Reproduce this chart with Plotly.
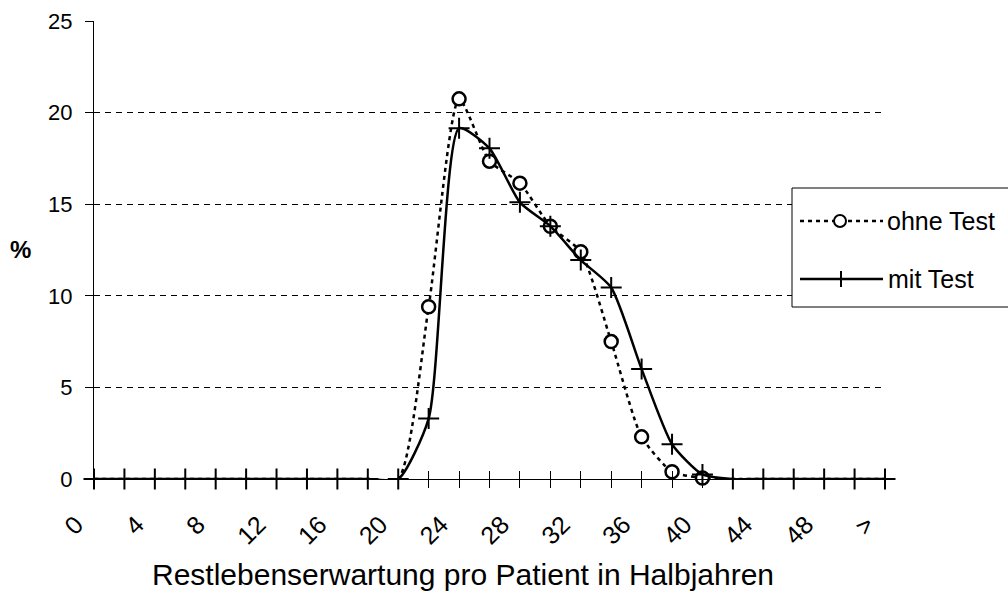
import plotly.graph_objects as go

# ---- data ----
categories = ["0", "2", "4", "6", "8", "10", "12", "14", "16", "18", "20", "22", "24",
              "26", "28", "30", "32", "34", "36", "38", "40", "42", "44", "46", "48", "50", ">"]
ohne_test = [0, 0, 0, 0, 0, 0, 0, 0, 0, 0, 0, 9.4, 20.75, 17.35, 16.15, 13.8, 12.4,
             7.5, 2.3, 0.4, 0.05, 0, 0, 0, 0, 0, 0]
mit_test = [0, 0, 0, 0, 0, 0, 0, 0, 0, 0, 0, 3.3, 19.15, 18.05, 15.1, 13.8, 11.95,
            10.45, 6.0, 1.9, 0.25, 0, 0, 0, 0, 0, 0]
y_ticks = [0, 5, 10, 15, 20, 25]
x_title = "Restlebenserwartung pro Patient in Halbjahren"
y_title = "%"
series_names = ["ohne Test", "mit Test"]

FONT = "Liberation Sans, Arial, sans-serif"
W, H = 1008, 596
L, R, T, B = 94, 1008, 21, 479          # region covered by the (paper) plot area
PLOT_RIGHT = 885
SMOOTH = 0.6


def px(x):
    return (x - L) / (R - L)


def py(y):
    return (B - y) / (B - T)


idx = list(range(len(categories)))
ticktext = [c if i % 2 == 0 else "" for i, c in enumerate(categories)]

fig = go.Figure()

fig.add_trace(go.Scatter(
    x=idx, y=ohne_test, name=series_names[0], mode="lines+markers",
    line=dict(color="black", width=2.5, dash="4px,4px", shape="spline", smoothing=SMOOTH),
    marker=dict(symbol="circle", size=[0 if v == 0 else 13 for v in ohne_test],
                color="white", opacity=1, line=dict(color="#000000", width=2.5)),
    cliponaxis=False, showlegend=False))

fig.add_trace(go.Scatter(
    x=idx, y=mit_test, name=series_names[1], mode="lines+markers",
    line=dict(color="black", width=2.5, shape="spline", smoothing=SMOOTH),
    marker=dict(symbol="cross-thin", size=15, color="black",
                line=dict(color="black", width=2)),
    cliponaxis=False, showlegend=False))

# helper trace for the upper half of the crossing tick marks
fig.add_trace(go.Scatter(x=idx, y=mit_test, xaxis="x2", mode="none",
                         hoverinfo="skip", showlegend=False))

dom_right = px(PLOT_RIGHT)

fig.update_layout(
    width=W, height=H,
    margin=dict(l=L, r=W - R, t=T, b=H - B, pad=0),
    paper_bgcolor="white", plot_bgcolor="white",
    font=dict(family=FONT, size=22, color="black"),
    xaxis=dict(domain=[0, dom_right], range=[0, len(categories) - 1],
               tickmode="array", tickvals=idx, ticktext=ticktext,
               tickangle=-45, ticks="outside", ticklen=8, tickwidth=1, tickcolor="black",
               ticklabelstandoff=12, ticklabelshift=-18,
               showline=True, linecolor="black", linewidth=1,
               showgrid=False, zeroline=False,
               tickfont=dict(family=FONT, size=25, color="black")),
    xaxis2=dict(domain=[0, dom_right], range=[0, len(categories) - 1],
                overlaying="x", anchor="y", side="bottom",
                tickmode="array", tickvals=idx, ticks="inside", ticklen=8,
                tickwidth=1, tickcolor="black", showticklabels=False,
                showline=False, showgrid=False, zeroline=False),
    yaxis=dict(domain=[0, 1], range=[0, 25], tickmode="array", tickvals=y_ticks,
               ticks="outside", ticklen=8, tickwidth=1, tickcolor="black",
               ticklabelstandoff=8,
               showline=True, linecolor="black", linewidth=1,
               showgrid=True, gridcolor="black", gridwidth=1, griddash="6px,5px",
               zeroline=False,
               tickfont=dict(family=FONT, size=22, color="black")),
)

# ---- custom legend ----
shapes = [
    dict(type="rect", xref="paper", yref="paper", x0=px(792), x1=px(1014),
         y0=py(307), y1=py(188), line=dict(color="black", width=1),
         fillcolor="white", layer="above"),
    dict(type="line", xref="paper", yref="paper", x0=px(800), x1=px(883),
         y0=py(221), y1=py(221), line=dict(color="black", width=2.5, dash="4px,4px"),
         layer="above"),
    dict(type="circle", xref="paper", yref="paper", xsizemode="pixel", ysizemode="pixel",
         xanchor=px(840), yanchor=py(221), x0=-6, x1=6, y0=-6, y1=6,
         fillcolor="white", line=dict(color="black", width=2), layer="above"),
    dict(type="line", xref="paper", yref="paper", x0=px(800), x1=px(883),
         y0=py(279), y1=py(279), line=dict(color="black", width=2.5), layer="above"),
    dict(type="line", xref="paper", yref="paper", xsizemode="pixel", ysizemode="pixel",
         xanchor=px(841), yanchor=py(279), x0=0, x1=0, y0=-8, y1=8,
         line=dict(color="black", width=2), layer="above"),
]
fig.update_layout(shapes=shapes)

annotations = [
    dict(text=series_names[0], xref="paper", yref="paper", x=px(885), y=py(221),
         xanchor="left", yanchor="middle", showarrow=False,
         font=dict(family=FONT, size=25, color="black")),
    dict(text=series_names[1], xref="paper", yref="paper", x=px(886), y=py(279),
         xanchor="left", yanchor="middle", showarrow=False,
         font=dict(family=FONT, size=25, color="black")),
    dict(text=x_title, xref="paper", yref="paper", x=px(463), y=py(574),
         xanchor="center", yanchor="middle", showarrow=False,
         font=dict(family=FONT, size=30, color="black")),
    dict(text="<b>" + y_title + "</b>", xref="paper", yref="paper", x=px(20), y=py(249),
         xanchor="center", yanchor="middle", showarrow=False,
         font=dict(family=FONT, size=24, color="black")),
]
fig.update_layout(annotations=annotations)

fig.write_html("out.html")
